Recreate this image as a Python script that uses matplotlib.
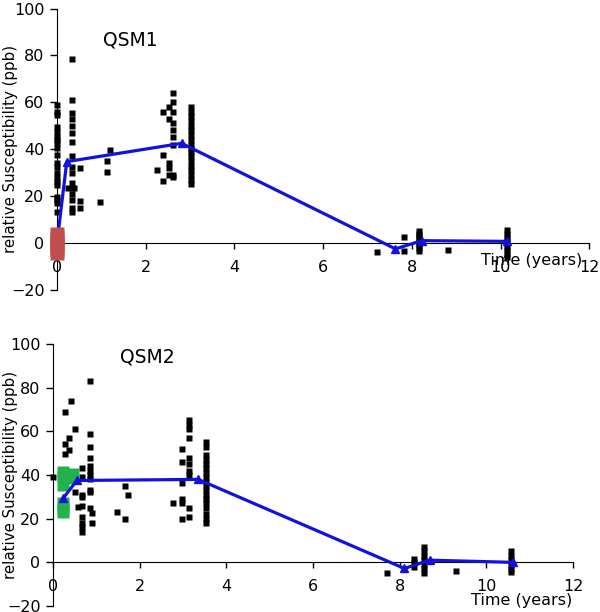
import numpy as np
import matplotlib
matplotlib.use("Agg")
import matplotlib.pyplot as plt

plt.rcParams['font.family'] = ['DejaVu Sans']

# QSM1 individual measurements (time in years, relative susceptibility in ppb)
qsm1_times = [0.0, 0.25, 0.33, 0.38, 0.52, 0.98, 1.13, 1.2, 2.25, 2.38, 2.53,
              2.62, 3.02, 7.22, 7.83, 8.16, 8.82, 10.14]
qsm1_values = [
    [58.8, 56, 54.5, 49.6, 47.5, 45.3, 43.9, 42.5, 40.4, 37.5, 34, 32.5, 29.7,
     27.6, 26.2, 24.8, 19.8, 18.3, 16.9, 13.3],
    [23.3],
    [78.5, 61, 55.5, 53, 50, 47, 43, 37, 32.5, 29.7, 25.4, 23.3, 21.1, 18.3,
     14.8, 13.4],
    [23.3],
    [32, 18, 15],
    [17.4],
    [35, 30.4],
    [39.7],
    [31],
    [56, 37.5, 26.4],
    [58, 53, 34, 32, 29],
    [64, 60, 56, 51, 48, 45, 42, 29, 28],
    [58, 56, 54, 52, 50, 48, 46, 44, 42, 40, 39, 37, 35, 33, 31, 29, 27, 25],
    [-4],
    [2.7, -3.5],
    [5, 4, 3, 2, 1, 0, -1, -2, -3.5],
    [-3],
    [5.5, 4, 2.5, 1, 0, -1.5, -3, -4.5, -5.8],
]
qsm1_base_y = [-4.2, -2.5, -1, 0.5, 2, 3.8]
qsm1_mean_t = [0.0, 0.22, 2.81, 7.63, 8.23, 10.15]
qsm1_mean_y = [0.0, 34.7, 42.5, -2.5, 1.0, 0.7]

# QSM2 individual measurements
qsm2_times = [0.0, 0.28, 0.37, 0.41, 0.51, 0.58, 0.68, 0.85, 0.91, 1.47, 1.66,
              1.74, 2.77, 2.97, 3.13, 3.54, 7.71, 8.33, 8.57, 9.3, 10.57]
qsm2_values = [
    [39],
    [69, 54, 49.5],
    [57, 51.4],
    [74],
    [61, 32],
    [25.5],
    [43, 39, 31, 30, 26, 21, 18, 16, 14],
    [83, 59, 53, 48, 44, 42, 40, 38, 33, 32, 25],
    [22.5, 18],
    [23],
    [35, 20],
    [31],
    [27],
    [52, 46, 36.5, 29, 27, 20],
    [65, 63, 61, 57, 48, 45, 42, 40, 25, 21],
    [55, 53, 49, 47, 45, 43, 41, 39, 37, 35, 33, 31, 29, 27, 25, 22, 20, 18],
    [-4.7],
    [1.5, 0, -2],
    [7, 5, 3, 1, -1, -3, -5],
    [-4],
    [5, 3, 1, -1, -3, -4.3],
]
qsm2_base_t = [0.24, 0.24, 0.46, 0.44, 0.24, 0.24, 0.24, 0.24]
qsm2_base_y = [41.5, 39, 40.5, 38.5, 35.5, 27, 25, 23]
qsm2_mean_t = [0.24, 0.55, 3.35, 8.11, 8.69, 10.61]
qsm2_mean_y = [29.5, 37.5, 38.0, -2.8, 1.0, 0.0]

BLUE = '#1212DC'
RED = '#C0504D'
GREEN = '#22B24C'


def flatten(times, values):
    xs = np.concatenate([[t] * len(v) for t, v in zip(times, values)])
    ys = np.concatenate([np.asarray(v, float) for v in values])
    return xs, ys


def style_axes(ax, ylabel_x):
    ax.set_xlim(0, 12)
    ax.set_ylim(-20, 100)
    ax.spines['top'].set_visible(False)
    ax.spines['right'].set_visible(False)
    ax.spines['bottom'].set_position(('data', 0))
    ax.spines['left'].set_position(('data', 0))
    ax.set_xticks(np.arange(0, 13, 2))
    ax.set_yticks(np.arange(-20, 101, 20))
    ax.tick_params(axis='x', direction='out', length=4, width=1, pad=8, labelsize=11.5)
    ax.tick_params(axis='y', direction='out', length=5, width=1, pad=4, labelsize=11.5)
    ax.set_ylabel('relative Susceptibility (ppb)', fontsize=10.8)
    ax.yaxis.set_label_coords(ylabel_x, 0.5)


fig = plt.figure(figsize=(6, 6.12), dpi=100)
ax1 = fig.add_axes([0.095, 0.5263, 0.887, 0.4598])
ax2 = fig.add_axes([0.0883, 0.0098, 0.8667, 0.428])

# top panel
x1, y1 = flatten(qsm1_times, qsm1_values)
ax1.plot(x1, y1, 's', color='black', ms=4.4, mec='none', zorder=3, clip_on=False)
ax1.plot(qsm1_mean_t, qsm1_mean_y, '-^', color=BLUE, lw=2.3, ms=6, zorder=4, clip_on=False)
ax1.plot([0] * len(qsm1_base_y), qsm1_base_y, 's', color=RED, ms=10, mec='none',
         zorder=5, clip_on=False)
style_axes(ax1, -0.074)
ax1.text(1.04, 86.6, 'QSM1', fontsize=13.5, va='center', ha='left')
ax1.text(9.55, -7.3, 'Time (years)', fontsize=11.5, va='center', ha='left')

# bottom panel
x2, y2 = flatten(qsm2_times, qsm2_values)
ax2.plot(x2, y2, 's', color='black', ms=4.4, mec='none', zorder=3, clip_on=False)
ax2.plot(qsm2_base_t, qsm2_base_y, 's', color=GREEN, ms=8.5, mec='none', zorder=3.5,
         clip_on=False)
ax2.plot(qsm2_mean_t, qsm2_mean_y, '-^', color=BLUE, lw=2.3, ms=6, zorder=4, clip_on=False)
style_axes(ax2, -0.068)
ax2.text(1.54, 94.2, 'QSM2', fontsize=13.5, va='center', ha='left')
ax2.text(9.65, -17.3, 'Time (years)', fontsize=11.5, va='center', ha='left')

fig.savefig('out.png', dpi=100)
